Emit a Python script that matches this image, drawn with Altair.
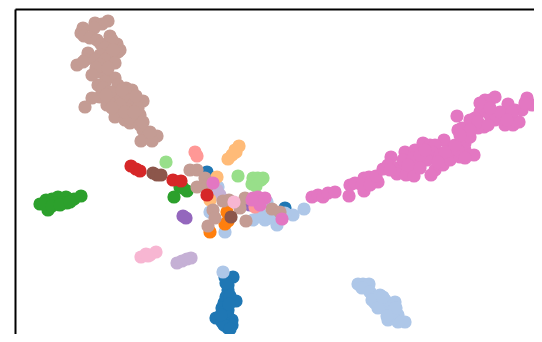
import altair as alt
import pandas as pd

blue_x = [225,233,228,228,226,224,236,222,228,216,222,228,232,228,232,224,285,207,226,230,225,229,221,230]
blue_y = [277,277,285,290,297,303,301,308,310,318,322,328,320,316,325,325,208,172,283,296,312,304,315,329]
ltblue_x = [223,358,363,369,362,370,375,385,395,380,375,388,398,405,388,398,385,390,225,210,218,253,265,277,293,304,260,267,270,285,380,390,372,393,378,396,383,387]
ltblue_y = [272,284,284,284,288,292,298,300,302,303,303,310,315,322,320,322,305,312,232,212,187,220,220,225,215,209,213,202,218,213,295,315,300,312,308,308,297,316]
lilac_x = [177,182,187,191,220,217]
lilac_y = [263,261,259,258,195,190]
purple_x = [183,186,250]
purple_y = [216,218,205]
ltorange_x = [239,236,232,228,235,217,210]
ltorange_y = [146,152,155,159,150,177,200]
salmon_x = [195,197,255]
salmon_y = [152,156,207]
green_x = [40,46,52,58,66,74,81,48,55,62,67,45,180,187,174,183,52,60,70]
green_y = [204,200,199,197,197,199,196,210,203,203,203,204,187,191,197,188,206,205,202]
ltgreen_x = [166,238,253,263,258,252,256,261]
ltgreen_y = [162,176,178,178,178,184,186,180]
orange_x = [210,225,227,228]
orange_y = [232,224,212,221]
ltbrown_x = [108,102,95,94,83,81,84,90,97,101,110,117,120,112,105,100,88,85,77,83,95,110,118,113,105,100,115,100,108,115,105,118,126,132,98,102,100,92,85,107,112,120,126,133,143,128,118,115,125,130,140,138,130,143,147,157,141,152,150,140,
            190,197,197,205,208,223,213,215,208,246,272,280,245,240,229,
            96,108,92,103,110,106,120,112,125,134,122,136,143]
ltbrown_y = [21,24,23,28,28,33,36,38,40,44,36,44,50,40,48,55,53,60,65,62,60,55,52,50,60,65,63,72,75,78,82,85,88,90,85,90,97,98,107,105,100,95,100,105,101,110,112,117,120,123,115,108,118,130,137,136,141,141,132,125,
            170,170,187,178,185,201,210,218,226,221,209,212,198,208,200,
            68,68,75,88,92,95,105,108,112,112,90,96,122]
brown_x = [153,157,161,231]
brown_y = [173,175,175,217]
pink_x = [312,318,323,328,335,350,349,355,364,369,372,378,364,362,370,376,383,391,388,397,397,406,412,414,420,405,415,423,430,444,435,432,427,435,443,431,450,460,468,474,465,465,470,458,462,472,457,480,475,483,490,495,485,480,490,484,500,505,513,519,510,508,515,527,532,522,525,495,478,403,413,440,420,450,445,458,
          213,253,258,265,260,252,282,
          390,408,420,425,438,455,470,478,488,500,512,470,490,507,465,460]
pink_y = [197,195,197,193,192,185,196,183,178,177,180,182,191,185,185,176,169,157,165,168,174,175,170,176,165,152,150,143,145,140,145,152,160,170,165,175,160,157,155,155,150,143,137,130,128,125,116,112,118,105,100,97,100,103,115,127,118,125,125,122,115,104,110,98,105,110,103,120,128,160,158,155,155,150,152,150,
          183,198,197,198,205,200,219,
          170,165,168,150,162,145,120,122,125,112,112,130,108,120,158,135]
ltpink_x = [141,146,150,156,148,234]
ltpink_y = [257,254,255,252,256,202]
red_x = [131,136,140,173,181,207]
red_y = [166,169,171,180,181,195]

groups = [
    ("#1f77b4", blue_x, blue_y), ("#aec7e8", ltblue_x, ltblue_y),
    ("#c5b0d5", lilac_x, lilac_y), ("#9467bd", purple_x, purple_y),
    ("#ffbb78", ltorange_x, ltorange_y), ("#ff9896", salmon_x, salmon_y),
    ("#2ca02c", green_x, green_y), ("#98df8a", ltgreen_x, ltgreen_y),
    ("#ff7f0e", orange_x, orange_y), ("#c49c94", ltbrown_x, ltbrown_y),
    ("#8c564b", brown_x, brown_y), ("#e377c2", pink_x, pink_y),
    ("#f7b6d2", ltpink_x, ltpink_y), ("#d62728", red_x, red_y),
]
rows = []
for colour, xs, ys in groups:
    for a, b in zip(xs, ys):
        rows.append({"x": a, "y": b, "c": colour, "i": len(rows)})
df = pd.DataFrame(rows)

axis_common = dict(labels=False, ticks=False, grid=False, title=None,
                   domainColor="black", domainWidth=2)
chart = (
    alt.Chart(df)
    .mark_circle(size=175, opacity=1)
    .encode(
        x=alt.X("x:Q", scale=alt.Scale(domain=[15, 534], nice=False, zero=False),
                axis=alt.Axis(orient="top", **axis_common)),
        y=alt.Y("y:Q", scale=alt.Scale(domain=[334, 9], nice=False, zero=False),
                axis=alt.Axis(orient="left", **axis_common)),
        color=alt.Color("c:N", scale=None),
        order=alt.Order("i:Q"),
    )
    .properties(width=519, height=325, padding={"left": 7, "top": 1, "right": 0, "bottom": 0},
                autosize=alt.AutoSizeParams(type="none"))
    .configure_view(stroke=None)
)
chart.save("out.html", embed_options={"renderer": "svg", "actions": False})
